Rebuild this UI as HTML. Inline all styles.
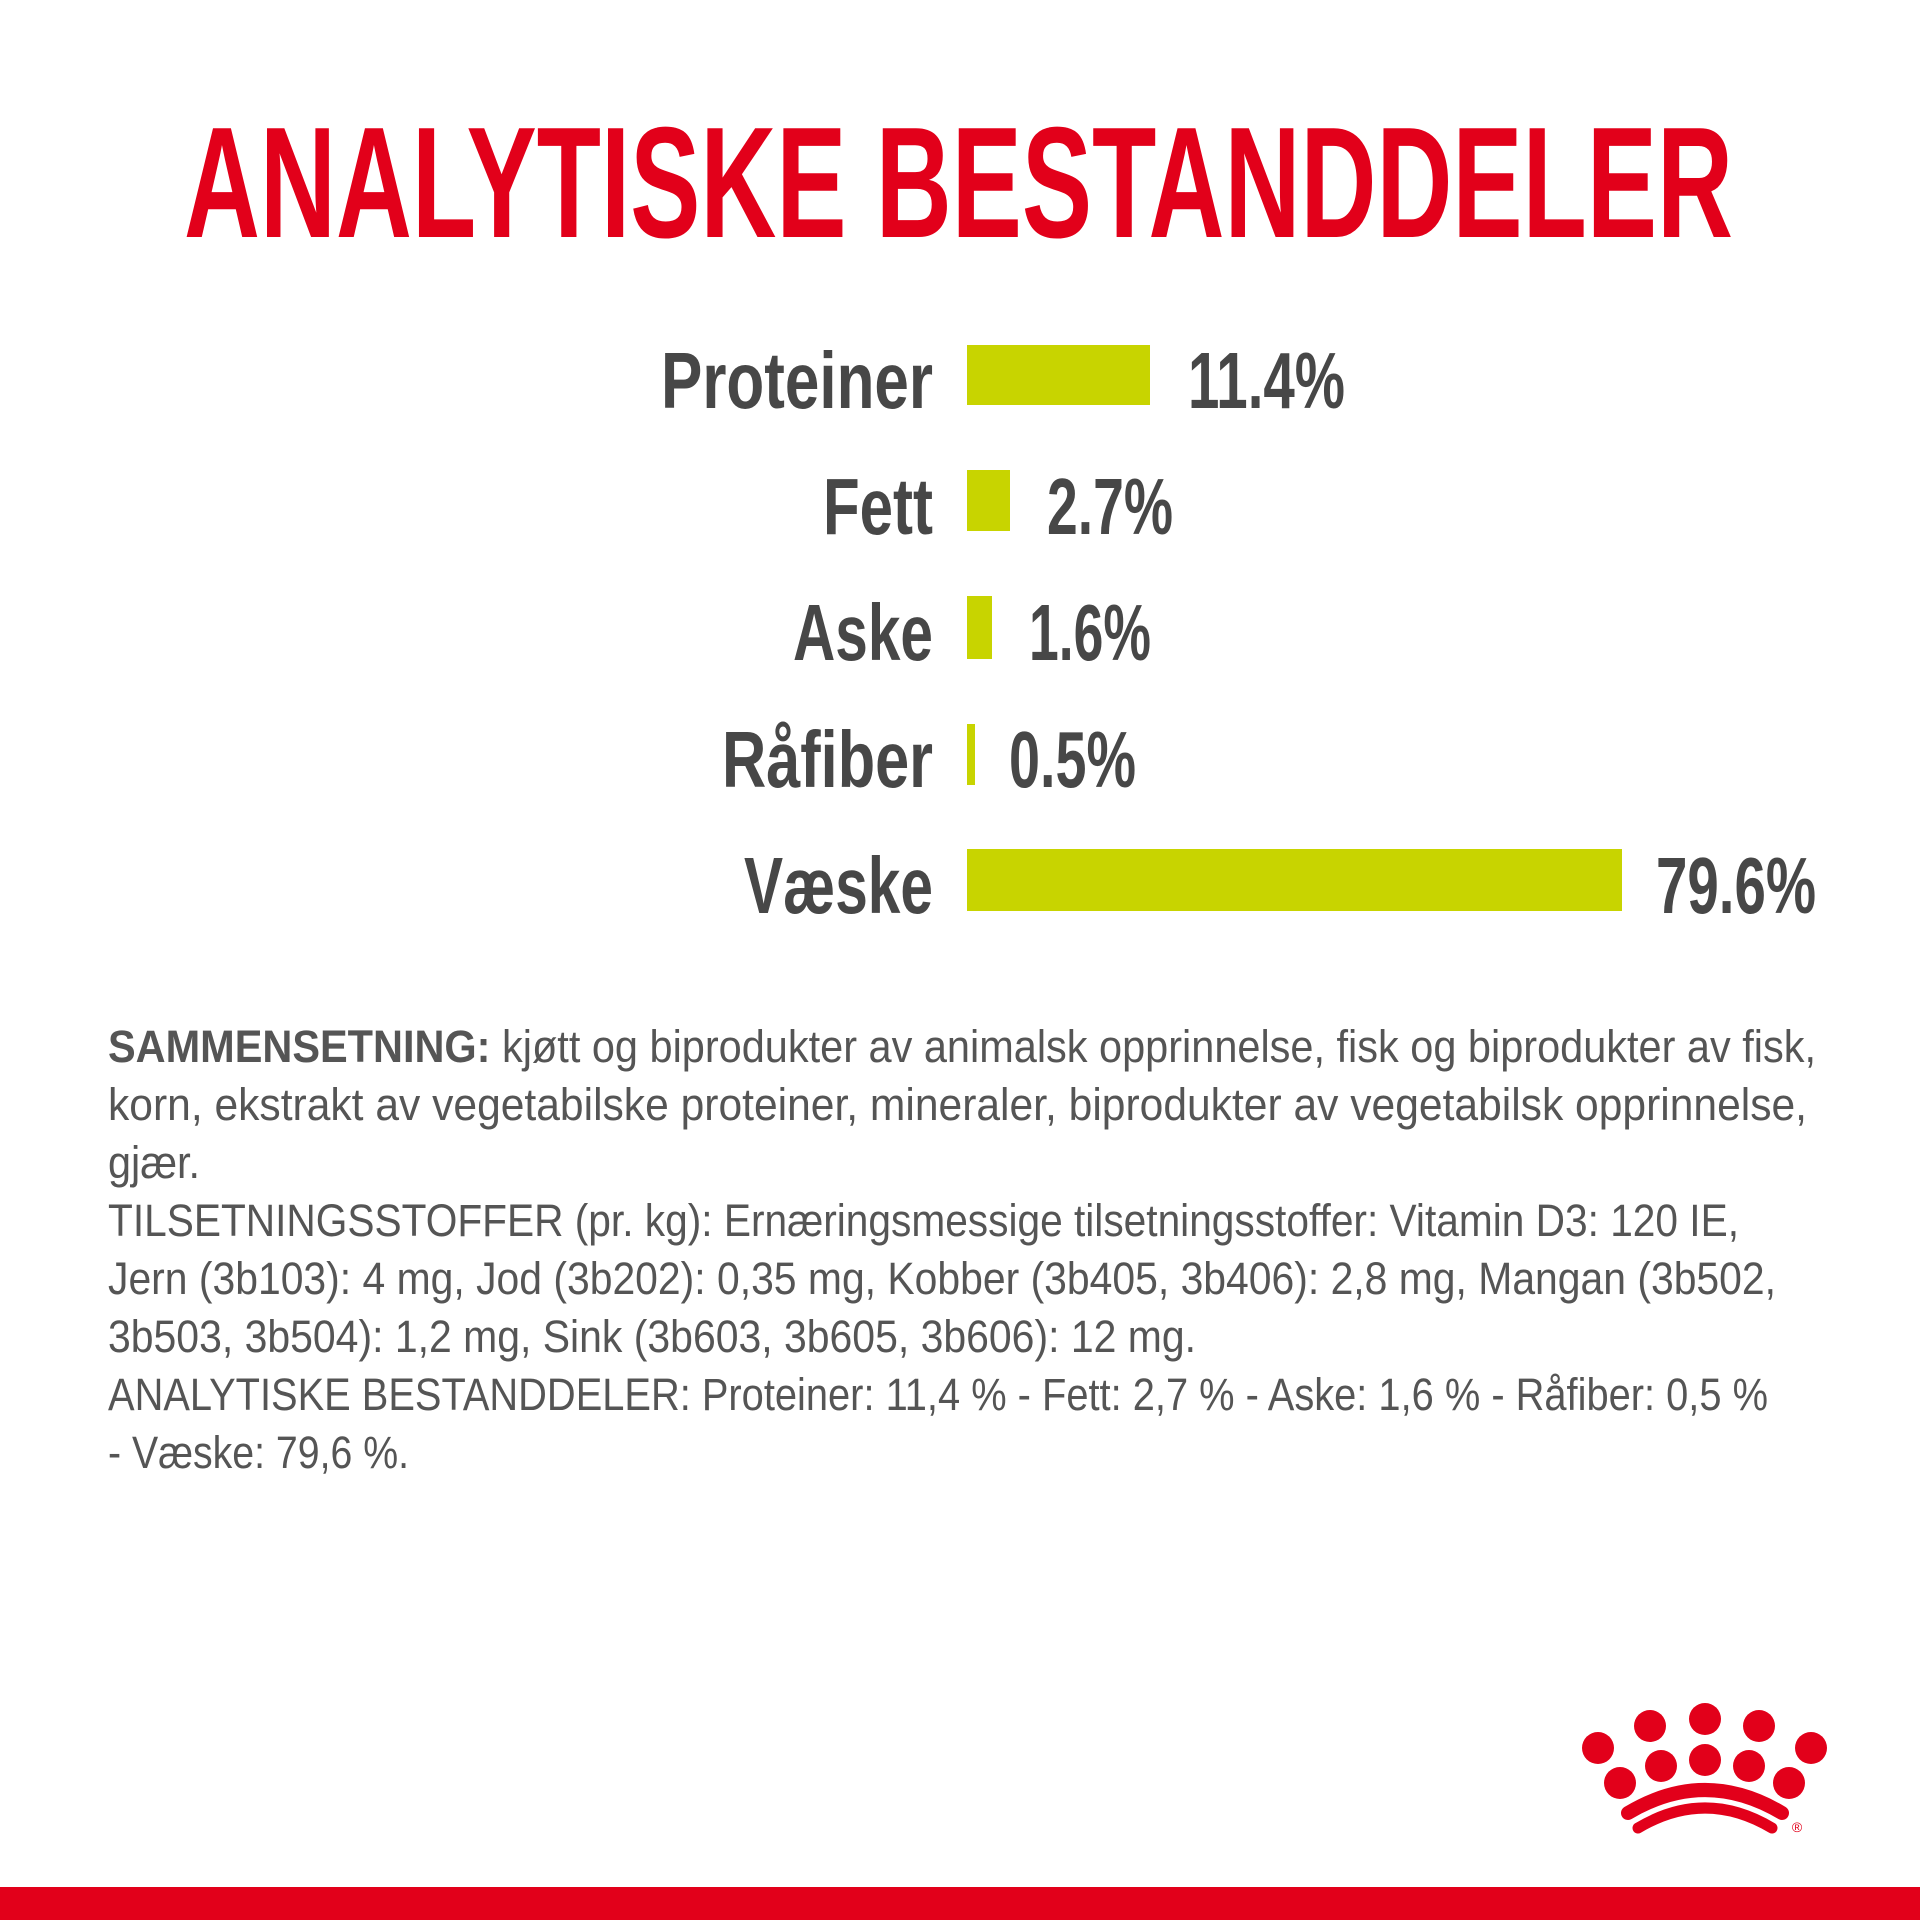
<!DOCTYPE html>
<html><head><meta charset="utf-8"><style>
html,body{margin:0;padding:0;background:#fff}
svg{display:block}
</style></head><body>
<svg width="1920" height="1920" viewBox="0 0 1920 1920" xmlns="http://www.w3.org/2000/svg">
<rect width="1920" height="1920" fill="#fff"/>
<text x="184" y="237" font-family="Liberation Sans Narrow, Liberation Sans, sans-serif" font-weight="bold" font-size="158" fill="#e2001a" textLength="1549" lengthAdjust="spacingAndGlyphs">ANALYTISKE BESTANDDELER</text>
<g font-family="Liberation Sans Narrow, Liberation Sans, sans-serif" font-weight="bold" font-size="80" fill="#474747">
<text x="661" y="408" textLength="272" lengthAdjust="spacingAndGlyphs">Proteiner</text>
<text x="823" y="534" textLength="110" lengthAdjust="spacingAndGlyphs">Fett</text>
<text x="793" y="660" textLength="140" lengthAdjust="spacingAndGlyphs">Aske</text>
<text x="722" y="787" textLength="211" lengthAdjust="spacingAndGlyphs">Råfiber</text>
<text x="744" y="913" textLength="189" lengthAdjust="spacingAndGlyphs">Væske</text>
<text x="1188" y="408" textLength="157" lengthAdjust="spacingAndGlyphs">11.4%</text>
<text x="1047" y="534" textLength="126" lengthAdjust="spacingAndGlyphs">2.7%</text>
<text x="1029" y="660" textLength="122" lengthAdjust="spacingAndGlyphs">1.6%</text>
<text x="1009" y="787" textLength="127" lengthAdjust="spacingAndGlyphs">0.5%</text>
<text x="1656" y="913" textLength="160" lengthAdjust="spacingAndGlyphs">79.6%</text>
</g>
<g fill="#c8d400">
<rect x="967" y="345" width="183" height="60"/>
<rect x="967" y="470" width="43" height="61"/>
<rect x="967" y="596" width="25" height="63"/>
<rect x="967" y="724" width="8" height="61"/>
<rect x="967" y="849" width="655" height="62"/>
</g>
<g font-family="Liberation Sans Narrow, Liberation Sans, sans-serif" font-size="45" fill="#555">
<text x="108" y="1062" textLength="1708" lengthAdjust="spacingAndGlyphs"><tspan font-weight="bold">SAMMENSETNING:</tspan> kjøtt og biprodukter av animalsk opprinnelse, fisk og biprodukter av fisk,</text>
<text x="108" y="1120" textLength="1699" lengthAdjust="spacingAndGlyphs">korn, ekstrakt av vegetabilske proteiner, mineraler, biprodukter av vegetabilsk opprinnelse,</text>
<text x="108" y="1178" textLength="92" lengthAdjust="spacingAndGlyphs">gjær.</text>
<text x="108" y="1236" textLength="1631" lengthAdjust="spacingAndGlyphs">TILSETNINGSSTOFFER (pr. kg): Ernæringsmessige tilsetningsstoffer: Vitamin D3: 120 IE,</text>
<text x="108" y="1294" textLength="1668" lengthAdjust="spacingAndGlyphs">Jern (3b103): 4 mg, Jod (3b202): 0,35 mg, Kobber (3b405, 3b406): 2,8 mg, Mangan (3b502,</text>
<text x="108" y="1352" textLength="1088" lengthAdjust="spacingAndGlyphs">3b503, 3b504): 1,2 mg, Sink (3b603, 3b605, 3b606): 12 mg.</text>
<text x="108" y="1410" textLength="1660" lengthAdjust="spacingAndGlyphs">ANALYTISKE BESTANDDELER: Proteiner: 11,4 % - Fett: 2,7 % - Aske: 1,6 % - Råfiber: 0,5 %</text>
<text x="108" y="1468" textLength="301" lengthAdjust="spacingAndGlyphs">- Væske: 79,6 %.</text>
</g>
<g fill="#e2001a">
<circle cx="1598" cy="1748" r="16"/><circle cx="1650" cy="1726" r="16"/><circle cx="1705" cy="1719" r="16"/>
<circle cx="1759" cy="1726" r="16"/><circle cx="1811" cy="1748" r="16"/><circle cx="1620" cy="1783" r="16"/>
<circle cx="1661" cy="1766" r="16"/><circle cx="1705" cy="1760" r="16"/><circle cx="1749" cy="1766" r="16"/>
<circle cx="1789" cy="1783" r="16"/>
</g>
<path d="M1628 1813 Q1705 1767 1782 1813" stroke="#e2001a" stroke-width="14" fill="none" stroke-linecap="round"/>
<path d="M1638 1828 Q1705 1788 1772 1828" stroke="#e2001a" stroke-width="11" fill="none" stroke-linecap="round"/>
<text x="1797" y="1832" font-family="Liberation Sans, sans-serif" font-size="14" fill="#e2001a" text-anchor="middle">®</text>
<rect x="0" y="1887" width="1920" height="33" fill="#e2001a"/>
</svg>
</body></html>
